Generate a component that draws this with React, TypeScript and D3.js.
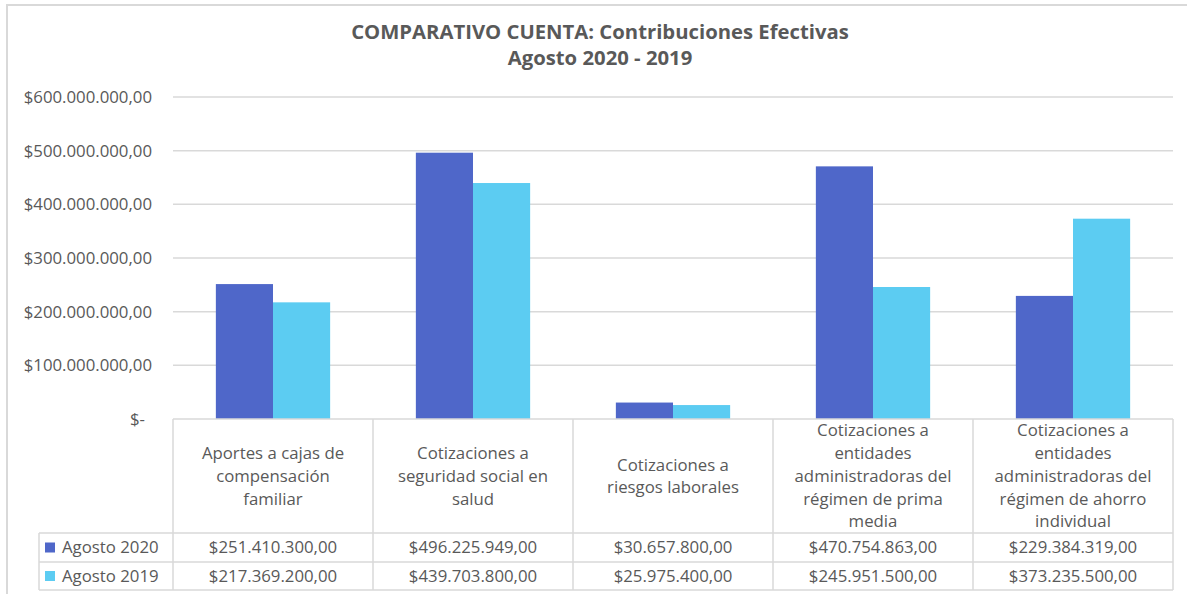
import React from "react";
import * as d3 from "d3";

const categories: string[][] = [
  ["Aportes a cajas de", "compensación", "familiar"],
  ["Cotizaciones a", "seguridad social en", "salud"],
  ["Cotizaciones a", "riesgos laborales"],
  ["Cotizaciones a", "entidades", "administradoras del", "régimen de prima", "media"],
  ["Cotizaciones a", "entidades", "administradoras del", "régimen de ahorro", "individual"],
];
const seriesNames = ["Agosto 2020", "Agosto 2019"];
const agosto2020 = [251410300, 496225949, 30657800, 470754863, 229384319];
const agosto2019 = [217369200, 439703800, 25975400, 245951500, 373235500];
const yTicks = [0, 100000000, 200000000, 300000000, 400000000, 500000000, 600000000];
const colors = ["#4F67C9", "#5CCCF2"];
const titleLines = ["COMPARATIVO CUENTA: Contribuciones Efectivas", "Agosto 2020 - 2019"];

const fmtNum = (v: number) => {
  const s = d3.format(",.2f")(v);
  return "$" + s.replace(/,/g, "X").replace(/\./g, ",").replace(/X/g, ".");
};

export default function App() {
  const W = 1187, H = 594;
  const left = 173, right = 1173, top = 97, bottom = 419;
  const font = "'Open Sans', 'Noto Sans', sans-serif";
  const txt = "#595959";
  const grid = "#D9D9D9";
  const x = d3.scaleBand<number>().domain(d3.range(categories.length)).range([left, right]).paddingInner(0).paddingOuter(0);
  const y = d3.scaleLinear().domain([0, 600000000]).range([bottom, top]);
  const bw = x.bandwidth() / 3.5;
  const series = [agosto2020, agosto2019];
  const legendLeft = 39;
  const row1 = 533, row2 = 562, row3 = 590;
  const fs = 16.8;
  return (
    <svg width={W} height={H} style={{ position: "absolute", left: 0, top: 0 }} fontFamily={font}>
      <rect x={0} y={0} width={W} height={H} fill="#fff" />
      <rect x={7} y={5} width={W} height={H} fill="none" stroke={grid} strokeWidth={2} />
      {titleLines.map((t, i) => (
        <text key={i} x={600} y={39 + i * 26} textAnchor="middle" fontSize={20.3} fontWeight="bold" fill={txt}>{t}</text>
      ))}
      {yTicks.map((t) => (
        <g key={t}>
          {t > 0 && <line x1={left} x2={right} y1={y(t)} y2={y(t)} stroke={grid} strokeWidth={1.5} />}
          <text x={t === 0 ? 145 : 152} y={y(t)} dy="0.35em" textAnchor="end" fontSize={fs} fill={txt}>
            {t === 0 ? "$-" : fmtNum(t)}
          </text>
        </g>
      ))}
      {series.map((s, si) =>
        s.map((v, ci) => {
          const cx = (x(ci) as number) + x.bandwidth() / 2;
          const bx = cx - bw + si * bw;
          return <rect key={si + "-" + ci} x={bx} y={y(v)} width={bw} height={bottom - y(v)} fill={colors[si]} />;
        })
      )}
      <line x1={left} x2={right} y1={bottom} y2={bottom} stroke={grid} strokeWidth={1.5} />
      {[row1, row2, row3].map((r) => (
        <line key={r} x1={legendLeft} x2={right} y1={r} y2={r} stroke={grid} strokeWidth={1.5} />
      ))}
      <line x1={legendLeft} x2={legendLeft} y1={row1} y2={row3} stroke={grid} strokeWidth={1.5} />
      {d3.range(categories.length + 1).map((i) => {
        const lx = left + i * x.bandwidth();
        return <line key={i} x1={lx} x2={lx} y1={bottom} y2={row3} stroke={grid} strokeWidth={1.5} />;
      })}
      {categories.map((lines, ci) => {
        const cx = (x(ci) as number) + x.bandwidth() / 2;
        const lh = 22.7;
        const midY = (bottom + row1) / 2;
        const startY = midY - ((lines.length - 1) * lh) / 2;
        return (
          <g key={ci}>
            {lines.map((l, li) => (
              <text key={li} x={cx} y={startY + li * lh} dy="0.35em" textAnchor="middle" fontSize={fs} fill={txt}>{l}</text>
            ))}
          </g>
        );
      })}
      {series.map((s, si) => {
        const ry = si === 0 ? (row1 + row2) / 2 : (row2 + row3) / 2;
        return (
          <g key={si}>
            <rect x={45} y={ry - 5} width={10} height={10} fill={colors[si]} />
            <text x={62} y={ry} dy="0.35em" fontSize={fs} fill={txt}>{seriesNames[si]}</text>
            {s.map((v, ci) => (
              <text key={ci} x={(x(ci) as number) + x.bandwidth() / 2} y={ry} dy="0.35em" textAnchor="middle" fontSize={fs} fill={txt}>
                {fmtNum(v)}
              </text>
            ))}
          </g>
        );
      })}
    </svg>
  );
}
